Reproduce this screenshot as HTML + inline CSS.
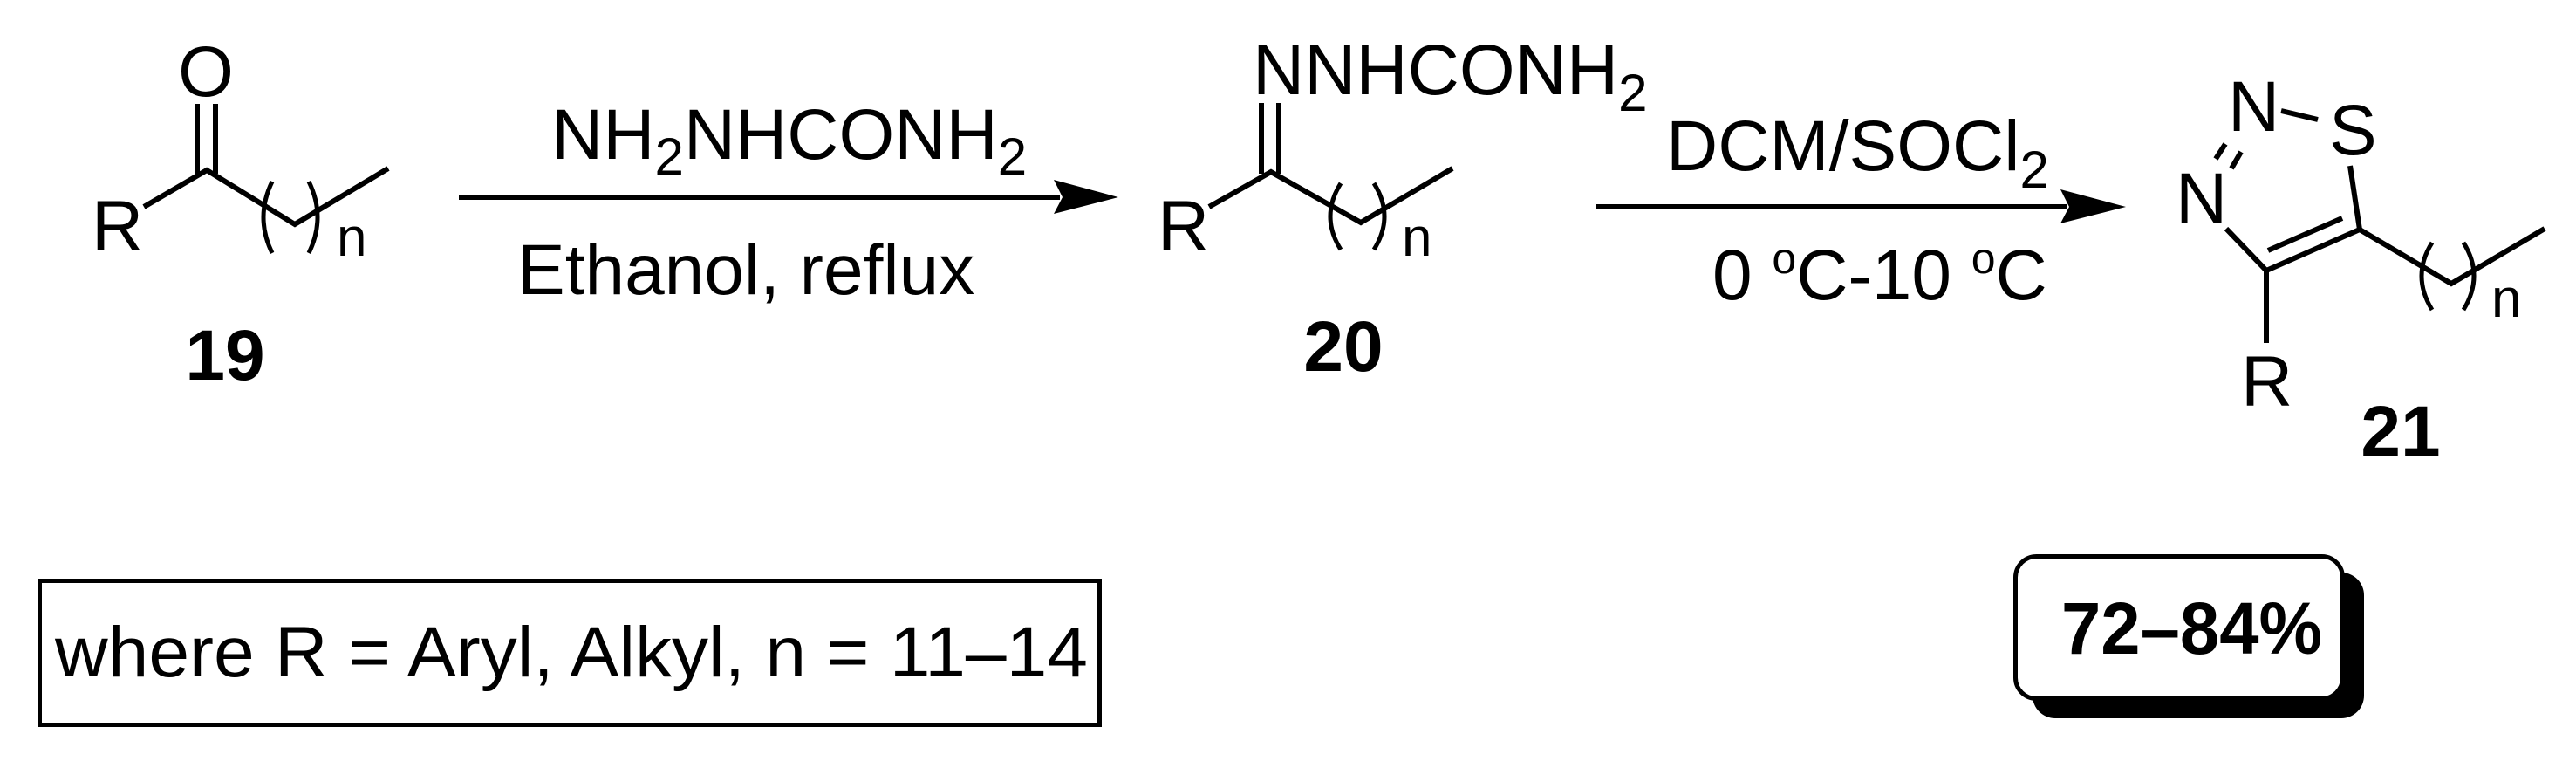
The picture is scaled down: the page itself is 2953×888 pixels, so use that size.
<!DOCTYPE html>
<html><head><meta charset="utf-8"><style>
html,body{margin:0;padding:0;background:#fff;}
svg{display:block;}
text{font-family:"Liberation Sans",Arial,sans-serif;fill:#000;}
</style></head><body>
<svg width="2953" height="888" viewBox="0 0 2953 888" xmlns="http://www.w3.org/2000/svg">
<g stroke="#000" stroke-width="6" fill="none" stroke-linecap="butt">
  <!-- 19 -->
  <line x1="226" y1="119" x2="226" y2="199"/>
  <line x1="247" y1="119" x2="247" y2="199"/>
  <polyline points="165,237 237,195 338,257 445,193"/>
  <path d="M312,208 Q292,249 312,290" stroke-width="5"/>
  <path d="M354,208 Q374,249 354,290" stroke-width="5"/>
  <!-- arrow 1 -->
  <line x1="526" y1="226" x2="1215" y2="226"/>
  <!-- 20 -->
  <line x1="1446" y1="118" x2="1446" y2="199"/>
  <line x1="1466" y1="118" x2="1466" y2="199"/>
  <polyline points="1386,237 1457,197 1560,255 1665,193"/>
  <path d="M1537,210 Q1513,248 1537,286" stroke-width="5"/>
  <path d="M1575,210 Q1599,248 1575,286" stroke-width="5"/>
  <!-- arrow 2 -->
  <line x1="1830" y1="237" x2="2370" y2="237"/>
  <!-- 21 -->
  <line x1="2615" y1="127" x2="2657" y2="137"/>
  <line x1="2551" y1="165" x2="2540" y2="182"/>
  <line x1="2569" y1="174" x2="2558" y2="193"/>
  <line x1="2694" y1="190" x2="2705" y2="263"/>
  <polyline points="2552,262 2598,310 2705,263 2810,325 2917,262"/>
  <line x1="2600" y1="287" x2="2685" y2="250"/>
  <line x1="2598" y1="310" x2="2598" y2="393"/>
  <path d="M2788,278 Q2764,316 2788,355" stroke-width="5"/>
  <path d="M2824,278 Q2848,316 2824,355" stroke-width="5"/>
</g>
<polygon points="1282,226 1208,206 1218,226 1208,245" fill="#000"/>
<polygon points="2437,237 2362,217 2372,237 2362,256" fill="#000"/>

<!-- 19 labels -->
<text x="236" y="110" font-size="82" text-anchor="middle">O</text>
<text x="105" y="287" font-size="82">R</text>
<text x="386" y="293" font-size="62">n</text>
<text x="258" y="435" font-size="82" font-weight="bold" text-anchor="middle">19</text>

<!-- reagents 1 -->
<text x="632" y="182" font-size="82">NH<tspan font-size="60" dy="18">2</tspan><tspan dy="-18">NHCONH</tspan><tspan font-size="60" dy="18">2</tspan></text>
<text x="593" y="337" font-size="82">Ethanol, reflux</text>

<!-- 20 labels -->
<text x="1436" y="108" font-size="82">NNHCONH<tspan font-size="60" dy="19">2</tspan></text>
<text x="1327" y="287" font-size="82">R</text>
<text x="1607" y="293" font-size="62">n</text>
<text x="1540" y="425" font-size="82" font-weight="bold" text-anchor="middle">20</text>

<!-- reagents 2 -->
<text x="1910" y="195" font-size="82">DCM/SOCl<tspan font-size="60" dy="20">2</tspan></text>
<text x="1963" y="343" font-size="82">0 <tspan font-size="50" dy="-30">o</tspan><tspan dy="30">C-10 </tspan><tspan font-size="50" dy="-30">o</tspan><tspan dy="30">C</tspan></text>

<!-- 21 labels -->
<text x="2554" y="150" font-size="82">N</text>
<text x="2670" y="177" font-size="82">S</text>
<text x="2494" y="255" font-size="82">N</text>
<text x="2569" y="465" font-size="82">R</text>
<text x="2856" y="363" font-size="62">n</text>
<text x="2752" y="522" font-size="82" font-weight="bold" text-anchor="middle">21</text>

<!-- where box -->
<rect x="45.5" y="665.5" width="1215" height="165" fill="none" stroke="#000" stroke-width="5"/>
<text x="63" y="775" font-size="82" textLength="1184" lengthAdjust="spacingAndGlyphs">where R = Aryl, Alkyl, n = 11–14</text>

<!-- yield box -->
<rect x="2330" y="656" width="380" height="167" rx="26" fill="#000"/>
<rect x="2310.5" y="637.5" width="375" height="163" rx="24" fill="#fff" stroke="#000" stroke-width="5"/>
<text x="2363" y="749" font-size="84" font-weight="bold" textLength="299" lengthAdjust="spacingAndGlyphs">72–84%</text>
</svg>
</body></html>
